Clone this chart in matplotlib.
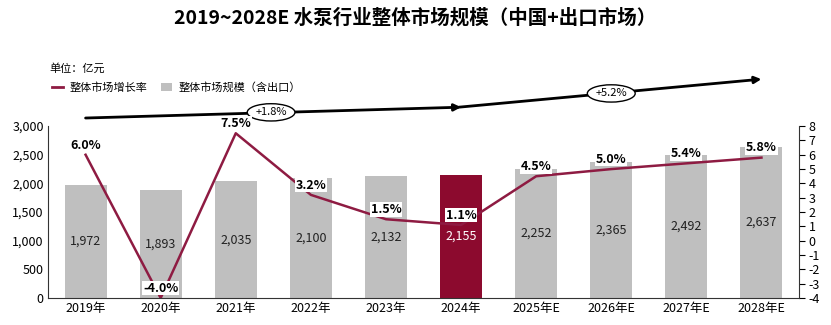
import matplotlib.pyplot as plt
from matplotlib.patches import Patch
from matplotlib.lines import Line2D

plt.rcParams['font.family'] = ['Noto Sans CJK SC', 'DejaVu Sans']
plt.rcParams['axes.unicode_minus'] = False

years = ['2019年', '2020年', '2021年', '2022年', '2023年', '2024年',
         '2025年E', '2026年E', '2027年E', '2028年E']
market_size = [1972, 1893, 2035, 2100, 2132, 2155, 2252, 2365, 2492, 2637]
growth = [6.0, -4.0, 7.5, 3.2, 1.5, 1.1, 4.5, 5.0, 5.4, 5.8]
cagr_labels = ['+1.8%', '+5.2%']

grey = '#BFBFBF'
red = '#8C0A2E'
line_red = '#8E1B42'

fig = plt.figure(figsize=(8.31, 3.25), dpi=100)
ax = fig.add_axes([0.0578, 0.083, 0.9037, 0.529])
ax2 = ax.twinx()

x = list(range(len(years)))
colors = [red if y == '2024年' else grey for y in years]
ax.bar(x, market_size, width=0.56, color=colors, zorder=2)
for i, v in enumerate(market_size):
    ax.text(i, v / 2, f'{v:,}', ha='center', va='center', fontsize=9,
            color='white' if colors[i] == red else '#222222', zorder=3)

ax.set_xlim(-0.5, len(years) - 0.5)
ax.set_ylim(0, 3000)
ax.set_yticks(range(0, 3001, 500))
ax.set_yticklabels([f'{t:,}' for t in range(0, 3001, 500)], fontsize=9)
ax.set_xticks(x)
ax.set_xticklabels(years, fontsize=9)
ax.tick_params(axis='x', length=0, pad=3)
ax.tick_params(axis='y', length=0, pad=3)
for s in ['top', 'right']:
    ax.spines[s].set_visible(False)
ax.spines['left'].set_color('#333333')
ax.spines['bottom'].set_color('#333333')

ax2.plot(x, growth, color=line_red, lw=1.8, zorder=4)
ax2.set_ylim(-4, 8)
ax2.set_yticks(range(-4, 9))
ax2.set_yticklabels([str(t) for t in range(-4, 9)])
ax2.tick_params(axis='y', labelsize=9, length=4, direction='out', pad=3)
for s in ['top', 'left', 'bottom']:
    ax2.spines[s].set_visible(False)
ax2.spines['right'].set_color('#333333')
for i, g in enumerate(growth):
    ax2.annotate(f'{g:.1f}%', (i, g), xytext=(0, 7), textcoords='offset points',
                 ha='center', va='center', fontsize=9, fontweight='bold',
                 bbox=dict(boxstyle='square,pad=0.05', fc='white', ec='none'),
                 zorder=5)

# CAGR arrows above the plot
trans = ('data', 'axes fraction')
arrow_kw = dict(arrowstyle='-|>', color='black', lw=2, mutation_scale=10,
                shrinkA=0, shrinkB=0)
ax.annotate('', xy=(5, 1.11), xytext=(0, 1.047), xycoords=trans,
            textcoords=trans, arrowprops=arrow_kw, annotation_clip=False)
ax.annotate('', xy=(9, 1.273), xytext=(4.97, 1.11), xycoords=trans,
            textcoords=trans, arrowprops=arrow_kw, annotation_clip=False)
ell = dict(boxstyle='ellipse,pad=0.1', fc='white', ec='black', lw=1)
ax.annotate(cagr_labels[0], (2.47, 1.08), xycoords=trans, ha='center',
            va='center', fontsize=8, bbox=ell, annotation_clip=False)
ax.annotate(cagr_labels[1], (7.0, 1.19), xycoords=trans, ha='center',
            va='center', fontsize=8, bbox=ell, annotation_clip=False)

fig.text(0.5, 0.945, '2019~2028E 水泵行业整体市场规模（中国+出口市场）',
         ha='center', va='center', fontsize=14, fontweight='bold')
fig.text(0.06, 0.79, '单位：亿元', ha='left', va='center', fontsize=8)

handles = [Line2D([0], [0], color=line_red, lw=2),
           Patch(facecolor=grey, edgecolor='none')]
fig.legend(handles, ['整体市场增长率', '整体市场规模（含出口）'],
           loc='center left', bbox_to_anchor=(0.05, 0.73), ncol=2,
           frameon=False, fontsize=8, handlelength=1.0, handletextpad=0.6,
           columnspacing=1.2)

fig.savefig('out.png', dpi=100)
